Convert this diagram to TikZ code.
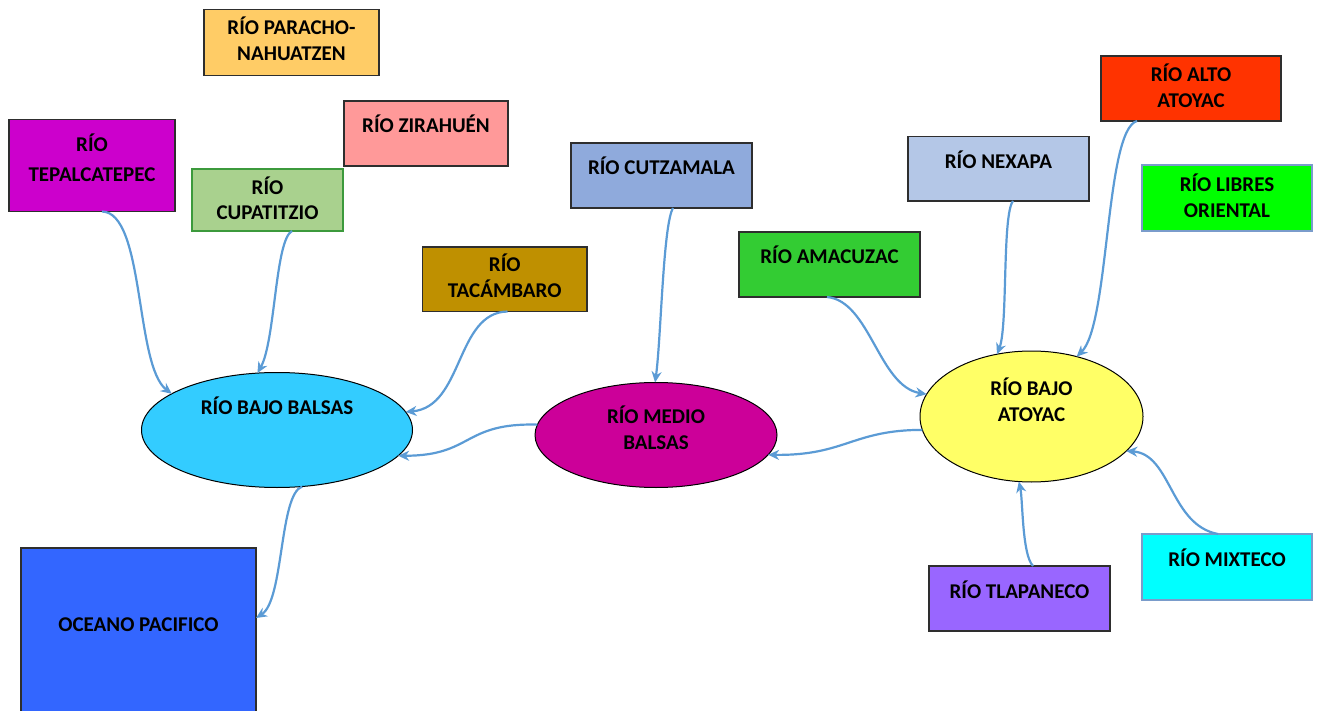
\documentclass[tikz,border=0pt]{standalone}
\usepackage{fontspec}
\setmainfont{Carlito}
\usetikzlibrary{arrows.meta,shapes.geometric,calc}
\definecolor{cPar}{HTML}{FFCC66}
\definecolor{cZir}{HTML}{FF9999}
\definecolor{cTep}{HTML}{CC00CC}
\definecolor{cCup}{HTML}{A9D18E}
\definecolor{cCupLine}{HTML}{3C9A3C}
\definecolor{cTac}{HTML}{BF9000}
\definecolor{cCut}{HTML}{8FAADC}
\definecolor{cAma}{HTML}{33CC33}
\definecolor{cNex}{HTML}{B4C7E7}
\definecolor{cAlto}{HTML}{FF3300}
\definecolor{cLib}{HTML}{00FF00}
\definecolor{cMix}{HTML}{00FFFF}
\definecolor{cBlueLine}{HTML}{7A9CCB}
\definecolor{cTlap}{HTML}{9966FF}
\definecolor{cOce}{HTML}{3366FF}
\definecolor{cBB}{HTML}{33CCFF}
\definecolor{cMB}{HTML}{CC0099}
\definecolor{cBA}{HTML}{FFFF66}
\definecolor{cConn}{HTML}{5B9BD5}
\definecolor{cBoxLine}{HTML}{2E2E2E}
\begin{document}
\begin{tikzpicture}[x=1pt,y=-1pt,
  every node/.style={font=\fontsize{21}{26}\selectfont\bfseries, inner sep=0pt, outer sep=0pt, align=center},
  rbox/.style={rectangle, draw=cBoxLine, line width=1.2pt, fill=#1, anchor=north west},
  ell/.style={ellipse, draw=black, line width=1pt, fill=#1},
  one/.style={text height=13pt, text depth=14pt},
  conn/.style={draw=cConn, line width=2.2pt, -{Stealth[length=11pt,width=10pt,inset=3.5pt]}}
]
\useasboundingbox (0,0) rectangle (1317,711);

% rectangles
\node[rbox=cPar, minimum width=175pt, minimum height=66pt, text height=42pt, text depth=5.5pt] (par) at (204,9.5) {RÍO PARACHO-\\NAHUATZEN};
\node[rbox=cZir, minimum width=164pt, minimum height=65pt, one] (zir) at (344,101) {RÍO ZIRAHUÉN};
\node[rbox=cTep, minimum width=166pt, minimum height=92pt, text height=46pt, text depth=14pt] (tep) at (9,119.5) {RÍO\\[4pt]TEPALCATEPEC};
\node[rbox=cCup, draw=cCupLine, minimum width=151pt, minimum height=62pt, text height=41pt, text depth=1pt] (cup) at (192,169) {RÍO\\[-1pt]CUPATITZIO};
\node[rbox=cTac, minimum width=164.5pt, minimum height=64.5pt, text height=42pt, text depth=5.5pt] (tac) at (422.5,247) {RÍO\\TACÁMBARO};
\node[rbox=cCut, minimum width=181pt, minimum height=65pt, one] (cut) at (571,143) {RÍO CUTZAMALA};
\node[rbox=cAma, minimum width=181pt, minimum height=65pt, one] (ama) at (739,232) {RÍO AMACUZAC};
\node[rbox=cNex, minimum width=181pt, minimum height=64.5pt, one] (nex) at (908,136.5) {RÍO NEXAPA};
\node[rbox=cAlto, minimum width=180pt, minimum height=65pt, text height=42pt, text depth=4pt] (alto) at (1101,56) {RÍO ALTO\\ATOYAC};
\node[rbox=cLib, draw=cBlueLine, minimum width=170pt, minimum height=66pt, text height=42pt, text depth=3pt] (lib) at (1142,165) {RÍO LIBRES\\ORIENTAL};
\node[rbox=cMix, draw=cBlueLine, minimum width=170pt, minimum height=66pt, one] (mix) at (1142,534) {RÍO MIXTECO};
\node[rbox=cTlap, minimum width=181pt, minimum height=65pt, one] (tlap) at (929,566) {RÍO TLAPANECO};
\node[rbox=cOce, minimum width=235pt, minimum height=167pt, one] (oce) at (21,548) {OCEANO PACIFICO};

% ellipses
\node[ell=cBB, minimum width=271pt, minimum height=115pt, text height=13pt, text depth=44pt] (bb) at (277,430) {RÍO BAJO BALSAS};
\node[ell=cMB, minimum width=242pt, minimum height=105pt, text height=42pt, text depth=13.5pt] (mb) at (656,435) {RÍO MEDIO\\BALSAS};
\node[ell=cBA, minimum width=223pt, minimum height=131pt, text height=42pt, text depth=32pt] (ba) at (1031.5,416.5) {RÍO BAJO\\ATOYAC};

% connectors
\draw[conn] ($(tep.south west)+(93,0)$) .. controls +(43,1) and +(-37,-28) .. (bb.161);
\draw[conn] ($(cup.south west)+(100,0)$) .. controls +(-17,9) and +(18,-32) .. (bb.109);
\draw[conn] ($(tac.south west)+(85,0)$) .. controls +(-52,1) and +(58,-5) .. (bb.8);
\draw[conn] (mb.175) .. controls +(-75,-2) and +(75,0) .. (bb.348);
\draw[conn] ($(cut.south west)+(102,0)$) .. controls +(-10,17) and +(6,-44) .. (mb.91);
\draw[conn] (bb.294) .. controls +(-23,8) and +(28,-18) .. ($(oce.north east)+(0,70)$);
\draw[conn] (ba.187) .. controls +(-70,0) and +(77,1) .. (mb.350);
\draw[conn] ($(ama.south west)+(88,0)$) .. controls +(43,4) and +(-48,-8) .. (ba.168);
\draw[conn] ($(nex.south west)+(105,0)$) .. controls +(-11,14) and +(11,-28) .. (ba.119);
\draw[conn] ($(alto.south west)+(36,0)$) .. controls +(-32,9) and +(33,-32) .. (ba.53);
\draw[conn] ($(tlap.north west)+(104,0)$) .. controls +(-11,-11) and +(4,18) .. (ba.259);
\draw[conn] ($(mix.north west)+(76,0)$) .. controls +(-48,-9) and +(45,3) .. (ba.340);
\end{tikzpicture}
\end{document}
